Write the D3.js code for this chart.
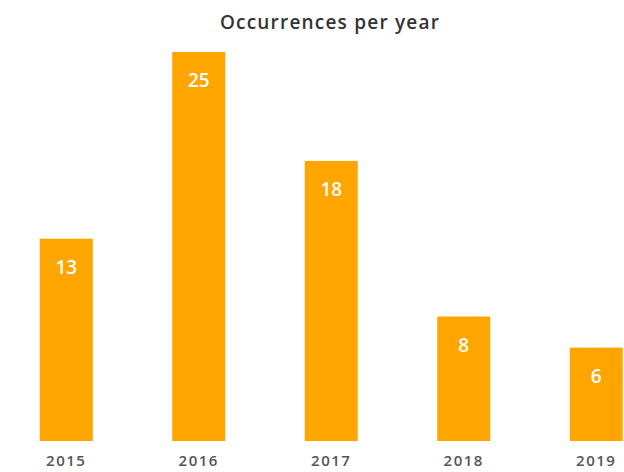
<!DOCTYPE html>
<html>
<head>
<meta charset="utf-8">
<script src="https://cdn.jsdelivr.net/npm/d3@7"></script>
<style>
  body { margin: 0; background: #fff; }
  text { font-family: "Open Sans", "DejaVu Sans", sans-serif; }
</style>
</head>
<body>
<div id="chart"></div>
<script>
var years = ["2015", "2016", "2017", "2018", "2019"];
var counts = [13, 25, 18, 8, 6];
var title = "Occurrences per year";

var width = 624, height = 472;

var svg = d3.select("#chart").append("svg")
    .attr("width", width)
    .attr("height", height);

var x = d3.scaleBand()
    .domain(years)
    .range([0, 662.5])
    .paddingInner(0.6)
    .paddingOuter(0.3);

var y = d3.scaleLinear()
    .domain([0, 25])
    .range([441, 52]);

svg.append("text")
    .attr("x", 330)
    .attr("y", 29)
    .attr("text-anchor", "middle")
    .attr("font-size", 19)
    .attr("font-weight", 600)
    .attr("letter-spacing", 1.2)
    .attr("fill", "#333")
    .text(title);

var data = years.map(function(d, i) { return { year: d, value: counts[i] }; });

svg.selectAll("rect.bar")
    .data(data)
    .enter().append("rect")
    .attr("class", "bar")
    .attr("x", function(d) { return x(d.year); })
    .attr("y", function(d) { return y(d.value); })
    .attr("width", x.bandwidth())
    .attr("height", function(d) { return y(0) - y(d.value); })
    .attr("fill", "#FFA500");

svg.selectAll("text.val")
    .data(data)
    .enter().append("text")
    .attr("class", "val")
    .attr("x", function(d) { return x(d.year) + x.bandwidth() / 2; })
    .attr("y", function(d) { return y(d.value) + 35; })
    .attr("text-anchor", "middle")
    .attr("font-size", 19)
    .attr("font-weight", 600)
    .attr("fill", "#fff")
    .text(function(d) { return d.value; });

var xAxis = svg.append("g")
    .attr("transform", "translate(0," + y(0) + ")")
    .call(d3.axisBottom(x).tickSize(0).tickPadding(14));
xAxis.select(".domain").remove();
xAxis.selectAll("text")
    .attr("font-size", 15)
    .attr("font-weight", 600)
    .attr("letter-spacing", 1.5)
    .attr("fill", "#555")
    .style("font-family", "\"Open Sans\", sans-serif");
</script>
</body>
</html>
